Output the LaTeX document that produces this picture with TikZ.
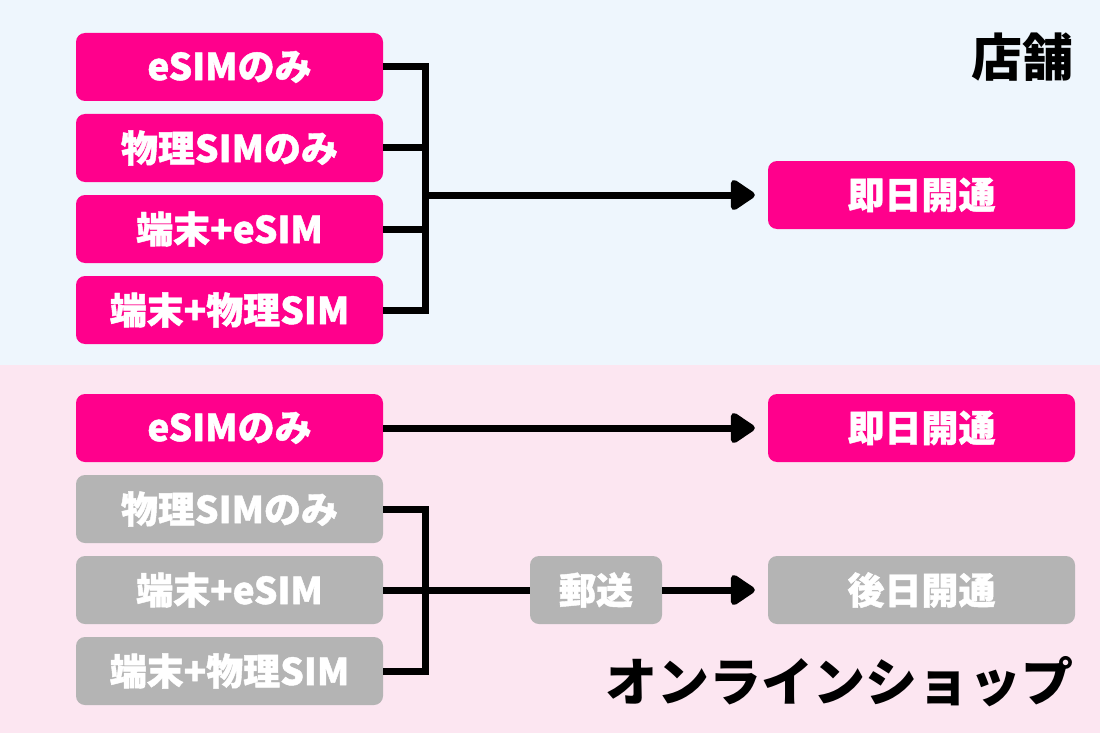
\documentclass[tikz,border=0pt]{standalone}
\usepackage{fontspec}
\usetikzlibrary{arrows.meta}
\newfontfamily\jp{Noto Sans CJK JP Black}
\newfontfamily\jpbox{Noto Sans CJK JP Black}[FakeBold=1.2]
\definecolor{magbox}{HTML}{FF008C}
\definecolor{graybox}{HTML}{B4B4B4}
\definecolor{topbg}{HTML}{EEF6FD}
\definecolor{botbg}{HTML}{FCE6F1}
\tikzset{
  box/.style={rounded corners=9pt, minimum width=307pt, minimum height=68pt, inner sep=0pt, text=white, font=\jpbox\fontsize{37}{40}\selectfont},
  magb/.style={box, fill=magbox},
  grayb/.style={box, fill=graybox},
  conn/.style={line width=7pt, black},
  arr/.style={conn, -{Triangle[length=27pt,width=34pt,round]}, shorten >=13pt},
  head/.style={font=\jp\fontsize{51}{54}\selectfont, text=black, inner sep=0pt}
}
\begin{document}
\begin{tikzpicture}[x=1pt,y=-1pt]
\useasboundingbox (0,0) rectangle (1100,733);
\fill[topbg] (0,0) rectangle (1100,365);
\fill[botbg] (0,365) rectangle (1100,733);
% top section
\node[magb] (a1) at (229.5,67) {eSIMのみ};
\node[magb] (a2) at (229.5,148) {物理SIMのみ};
\node[magb] (a3) at (229.5,229) {端末+eSIM};
\node[magb] (a4) at (229.5,310) {端末+物理SIM};
\node[magb] (r1) at (921.5,195) {即日開通};
\coordinate (j1) at (425,195);
\draw[conn] (a1.east) -| (j1);
\draw[conn] (a2.east) -| (j1);
\draw[conn] (a3.east) -| (j1);
\draw[conn] (a4.east) -| (j1);
\draw[arr] (j1) -- (r1.west);
\node[head] (t1) at (1022,57) {店舗};
% bottom section
\node[magb] (b1) at (229.5,428) {eSIMのみ};
\node[grayb] (b2) at (229.5,509) {物理SIMのみ};
\node[grayb] (b3) at (229.5,590) {端末+eSIM};
\node[grayb] (b4) at (229.5,671) {端末+物理SIM};
\node[magb] (r2) at (921.5,428) {即日開通};
\node[grayb, minimum width=132pt] (m1) at (596,590) {郵送};
\node[grayb] (r3) at (921.5,590) {後日開通};
\draw[arr] (b1.east) -- (r2.west);
\coordinate (j2) at (425,590);
\draw[conn] (b2.east) -| (j2);
\draw[conn] (b3.east) -| (j2);
\draw[conn] (b4.east) -| (j2);
\draw[conn] (j2) -- (m1.west);
\draw[arr] (m1.east) -- (r3.west);
\node[head, font=\jp\fontsize{52}{56}\selectfont] (t2) at (839,682) {オンラインショップ};
\end{tikzpicture}
\end{document}
